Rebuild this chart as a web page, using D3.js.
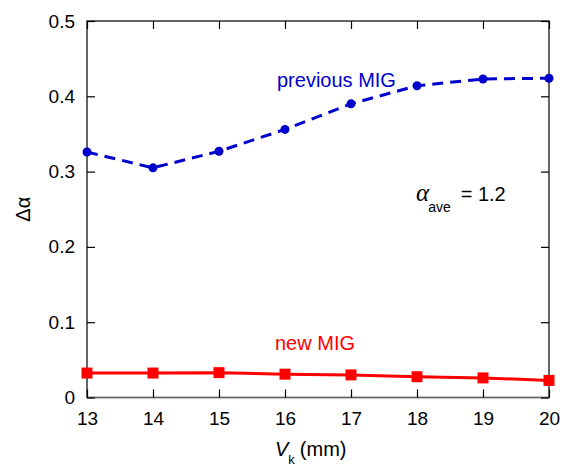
<!DOCTYPE html>
<html lang="en">
<head>
  <meta charset="UTF-8">
  <title>Delta alpha vs Vk</title>
  <style>
    body { margin: 0; background: #fff; }
    svg text { font-family: "Liberation Sans", Arial, sans-serif; }
  </style>
</head>
<body>
  <div id="chart"></div>
  <script src="https://cdn.jsdelivr.net/npm/d3@7"></script>
  <script>
    var vk = [13, 14, 15, 16, 17, 18, 19, 20];
    var previousMIG = [0.326, 0.305, 0.327, 0.356, 0.390, 0.414, 0.423, 0.424];
    var newMIG = [0.0325, 0.0325, 0.033, 0.031, 0.030, 0.0276, 0.026, 0.0227];
    var yTicks = [0, 0.1, 0.2, 0.3, 0.4, 0.5];

    var width = 570, height = 466;
    var margin = {left: 87, right: 21, top: 21, bottom: 69};

    var svg = d3.select('#chart').append('svg')
      .attr('width', width)
      .attr('height', height);

    var x = d3.scaleLinear().domain([13, 20]).range([margin.left, width - margin.right]);
    var y = d3.scaleLinear().domain([0, 0.5]).range([height - margin.bottom + 0.5, margin.top]);

    // frame
    svg.append('rect')
      .attr('x', x(13)).attr('y', y(0.5))
      .attr('width', x(20) - x(13)).attr('height', y(0) - y(0.5))
      .attr('fill', 'none').attr('stroke', '#000').attr('stroke-width', 1.2);
    svg.append('line')
      .attr('x1', x(13)).attr('x2', x(13)).attr('y1', y(0.5)).attr('y2', y(0))
      .attr('stroke', '#666').attr('stroke-width', 1.5);
    svg.append('line')
      .attr('x1', x(13)).attr('x2', x(20)).attr('y1', y(0)).attr('y2', y(0))
      .attr('stroke', '#666').attr('stroke-width', 1.5);

    // axes with inward ticks
    var axBottom = svg.append('g').attr('transform', 'translate(0,' + y(0) + ')')
      .call(d3.axisBottom(x).tickValues(vk).tickFormat(d3.format('d')).tickSize(-8).tickPadding(14));
    var axTop = svg.append('g').attr('transform', 'translate(0,' + y(0.5) + ')')
      .call(d3.axisTop(x).tickValues(vk).tickSize(-8).tickFormat(''));
    var axLeft = svg.append('g').attr('transform', 'translate(' + x(13) + ',0)')
      .call(d3.axisLeft(y).tickValues(yTicks).tickFormat(function(d) { return d === 0 ? '0' : d3.format('.1f')(d); }).tickSize(-8).tickPadding(12));
    var axRight = svg.append('g').attr('transform', 'translate(' + x(20) + ',0)')
      .call(d3.axisRight(y).tickValues(yTicks).tickSize(-8).tickFormat(''));

    [axBottom, axTop, axLeft, axRight].forEach(function(g) {
      g.select('.domain').remove();
      g.selectAll('.tick line').attr('stroke', '#000').attr('stroke-width', 1.2);
      g.selectAll('text').attr('font-size', 19).attr('fill', '#000')
        .style('font-family', '"Liberation Sans", Arial, sans-serif');
    });

    // previous MIG
    var bluePts = vk.map(function(v, i) { return [v, previousMIG[i]]; });
    svg.append('path')
      .datum(bluePts)
      .attr('fill', 'none').attr('stroke', '#0000cc').attr('stroke-width', 3)
      .attr('stroke-dasharray', '11,7')
      .attr('d', d3.line().x(function(d) { return x(d[0]); }).y(function(d) { return y(d[1]); }));
    svg.append('g').selectAll('circle').data(bluePts).enter().append('circle')
      .attr('cx', function(d) { return x(d[0]); })
      .attr('cy', function(d) { return y(d[1]); })
      .attr('r', 4.5).attr('fill', '#0000cc');

    // new MIG
    var redPts = vk.map(function(v, i) { return [v, newMIG[i]]; });
    svg.append('path')
      .datum(redPts)
      .attr('fill', 'none').attr('stroke', '#ff0000').attr('stroke-width', 3)
      .attr('d', d3.line().x(function(d) { return x(d[0]); }).y(function(d) { return y(d[1]); }));
    svg.append('g').selectAll('rect').data(redPts).enter().append('rect')
      .attr('x', function(d) { return x(d[0]) - 5.5; })
      .attr('y', function(d) { return y(d[1]) - 5.5; })
      .attr('width', 11).attr('height', 11).attr('fill', '#ff0000');

    // labels
    svg.append('text').attr('x', 277).attr('y', 87).attr('font-size', 20).attr('fill', '#0000cc').text('previous MIG');
    svg.append('text').attr('x', 275).attr('y', 350).attr('font-size', 20).attr('fill', '#ff0000').text('new MIG');

    var ann = svg.append('text').attr('x', 416).attr('y', 201).attr('font-size', 20).attr('fill', '#000');
    ann.append('tspan').attr('font-family', '"Liberation Serif", "Times New Roman", serif').attr('font-style', 'italic').attr('font-size', 25).text('α');
    ann.append('tspan').attr('font-size', 14).attr('dy', 11).attr('dx', -1).text('ave');
    ann.append('tspan').attr('dy', -11).attr('dx', 10).text('= 1.2');

    svg.append('text')
      .attr('transform', 'translate(30,' + ((y(0) + y(0.5)) / 2) + ') rotate(-90)')
      .attr('text-anchor', 'middle').attr('font-size', 20).attr('fill', '#000')
      .text('Δα');

    var xl = svg.append('text').attr('x', 275).attr('y', 456).attr('font-size', 20).attr('fill', '#000');
    xl.append('tspan').attr('font-style', 'italic').text('V');
    xl.append('tspan').attr('font-size', 13).attr('dy', 8).text('k');
    xl.append('tspan').attr('dy', -8).attr('dx', 5).text('(mm)');
  </script>
</body>
</html>
